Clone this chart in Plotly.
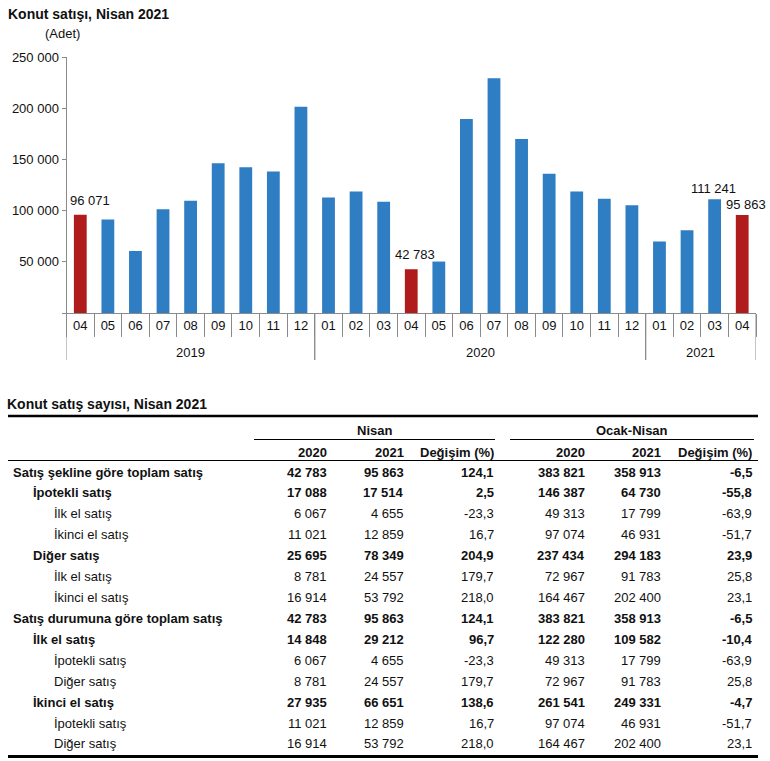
import plotly.graph_objects as go

# ---------------- chart data ----------------
years = ["2019"] * 9 + ["2020"] * 12 + ["2021"] * 4
months = ["04", "05", "06", "07", "08", "09", "10", "11", "12",
          "01", "02", "03", "04", "05", "06", "07", "08", "09", "10", "11", "12",
          "01", "02", "03", "04"]
sales = [96071, 91400, 60700, 101500, 109700, 146500, 142600, 138400, 201700,
         112900, 118800, 108700, 42783, 50300, 189600, 229400, 170000, 136100,
         118800, 111600, 105400, 69800, 80900, 111241, 95863]
highlighted = [("2019", "04"), ("2020", "04"), ("2021", "04")]
labelled = [("2019", "04"), ("2020", "04"), ("2021", "03"), ("2021", "04")]
y_ticks = [0, 50000, 100000, 150000, 200000, 250000]

# ---------------- table data ----------------
row_labels = ["Satış şekline göre toplam satış", "İpotekli satış", "İlk el satış",
              "İkinci el satış", "Diğer satış", "İlk el satış", "İkinci el satış",
              "Satış durumuna göre toplam satış", "İlk el satış", "İpotekli satış",
              "Diğer satış", "İkinci el satış", "İpotekli satış", "Diğer satış"]
row_levels = [0, 1, 2, 2, 1, 2, 2, 0, 1, 2, 2, 1, 2, 2]
row_bold = [True, True, False, False, True, False, False,
            True, True, False, False, True, False, False]
nisan_2020 = [42783, 17088, 6067, 11021, 25695, 8781, 16914,
              42783, 14848, 6067, 8781, 27935, 11021, 16914]
nisan_2021 = [95863, 17514, 4655, 12859, 78349, 24557, 53792,
              95863, 29212, 4655, 24557, 66651, 12859, 53792]
nisan_change = [124.1, 2.5, -23.3, 16.7, 204.9, 179.7, 218.0,
                124.1, 96.7, -23.3, 179.7, 138.6, 16.7, 218.0]
ocak_2020 = [383821, 146387, 49313, 97074, 237434, 72967, 164467,
             383821, 122280, 49313, 72967, 261541, 97074, 164467]
ocak_2021 = [358913, 64730, 17799, 46931, 294183, 91783, 202400,
             358913, 109582, 17799, 91783, 249331, 46931, 202400]
ocak_change = [-6.5, -55.8, -63.9, -51.7, 23.9, 25.8, 23.1,
               -6.5, -10.4, -63.9, 25.8, -4.7, -51.7, 23.1]
group_headers = ["Nisan", "Ocak-Nisan"]
col_headers = ["2020", "2021", "Değişim (%)", "2020", "2021", "Değişim (%)"]


def fmt_int(v):
    return f"{v:,}".replace(",", " ")


def fmt_pct(v):
    return f"{v:.1f}".replace(".", ",")


FONT = "Liberation Sans, Arial, sans-serif"
BLUE = "#2F7DC2"
RED = "#B01C1C"
AXIS = "#8a8a8a"
TXT = "#111111"

# label placement (pixel shifts) for the value labels, in the order of `labelled`
label_shift = [(10, 14), (4, 15), (-1, 11), (4, 10)]

keys = [f"{y}-{m}" for y, m in zip(years, months)]
colors = [RED if (y, m) in highlighted else BLUE for y, m in zip(years, months)]

fig = go.Figure()
fig.add_trace(go.Bar(
    x=keys, y=sales, marker_color=colors, marker_line_width=0,
    hoverinfo="skip", showlegend=False,
))
# invisible anchor trace for the table coordinate system
fig.add_trace(go.Scatter(x=[0], y=[0], xaxis="x2", yaxis="y2", mode="markers",
                         marker=dict(opacity=0), hoverinfo="skip", showlegend=False))

W, H = 770, 761
BASE = 313  # pixel row of the value axis zero line
fig.update_layout(
    template="none",
    width=W, height=H, margin=dict(l=0, r=0, t=0, b=0, pad=0),
    paper_bgcolor="white", plot_bgcolor="rgba(0,0,0,0)",
    font=dict(family=FONT, size=13, color=TXT),
    bargap=0.536, showlegend=False,
    xaxis=dict(
        type="category", categoryorder="array", categoryarray=keys,
        range=[-0.5, len(keys) - 0.5], autorange=False,
        domain=[66.5 / W, 756 / W], anchor="y", automargin=False,
        tickvals=keys, ticktext=months,
        showline=True, linecolor=AXIS, linewidth=1,
        ticks="outside", tickson="boundaries", ticklen=23, tickcolor=AXIS, tickwidth=1,
        ticklabelstandoff=0,
        tickfont=dict(size=13, color=TXT, family=FONT), showgrid=False, zeroline=False,
    ),
    yaxis=dict(
        domain=[1 - BASE / H, 1 - 57.3 / H], range=[0, 250000], autorange=False,
        anchor="x", automargin=False,
        tickvals=y_ticks, ticktext=["" if v == 0 else fmt_int(v) for v in y_ticks],
        ticks="outside", ticklen=4, tickcolor=AXIS, showline=True, linecolor=AXIS, linewidth=1,
        showgrid=False, zeroline=False, tickfont=dict(size=13, color=TXT, family=FONT),
    ),
    xaxis2=dict(domain=[0, 1], range=[0, W], anchor="y2", visible=False,
                fixedrange=True, automargin=False),
    yaxis2=dict(domain=[0, 1], range=[H, 0], anchor="x2", visible=False,
                fixedrange=True, automargin=False),
)

ann = []
shapes = []


def add_text(x, y, text, anchor="left", bold=False, size=13, xref="x2"):
    ann.append(dict(x=x, y=y, xref=xref, yref="y2", text=f"<b>{text}</b>" if bold else text,
                    showarrow=False, xanchor=anchor, yanchor="middle",
                    font=dict(size=size, color=TXT, family=FONT)))


def add_line(x0, x1, y, width):
    shapes.append(dict(type="line", xref="x2", yref="y2", x0=x0, x1=x1, y0=y, y1=y,
                       line=dict(color="black", width=width)))


# value labels above selected bars
for (yr, mo), (dx, dy) in zip(labelled, label_shift):
    i = [k for k, (y, m) in enumerate(zip(years, months)) if (y, m) == (yr, mo)][0]
    ann.append(dict(x=keys[i], y=sales[i], xref="x", yref="y", text=fmt_int(sales[i]),
                    showarrow=False, xanchor="center", yanchor="middle",
                    xshift=dx, yshift=dy, font=dict(size=13, color=TXT, family=FONT)))

# year group labels and dividers on the category axis
year_order = []
for y in years:
    if y not in year_order:
        year_order.append(y)
for yr in year_order:
    idx = [i for i, y in enumerate(years) if y == yr]
    add_text((idx[0] + idx[-1]) / 2, 352, yr, anchor="center", xref="x")
    for b in (idx[0] - 0.5, idx[-1] + 0.5):
        shapes.append(dict(type="line", xref="x", yref="y2", x0=b, x1=b, y0=BASE, y1=360,
                           line=dict(color=AXIS, width=1)))

# chart titles
add_text(6, 14, "Konut satışı, Nisan 2021", bold=True, size=14)
add_text(43, 33, "(Adet)", size=13)

# table layout
add_text(5, 404, "Konut satış sayısı, Nisan 2021", bold=True, size=14)
add_line(8, 758, 416, 2.5)
group_spans = [(254, 495), (510, 754)]
for name, (a, b) in zip(group_headers, group_spans):
    add_text((a + b) / 2, 430, name, anchor="center", bold=True)
    add_line(a, b, 439.5, 1.2)
col_right = [329, 406, 496, 587, 663, 754]
for h, xr in zip(col_headers, col_right):
    add_text(xr, 452, h, anchor="right", bold=True)
add_line(8, 758, 460.5, 1.2)

ROW0, STEP = 472, 20.92
indent = {0: 11, 1: 31, 2: 52}
cols = [(nisan_2020, fmt_int), (nisan_2021, fmt_int), (nisan_change, fmt_pct),
        (ocak_2020, fmt_int), (ocak_2021, fmt_int), (ocak_change, fmt_pct)]
for i, (lab, lev, b) in enumerate(zip(row_labels, row_levels, row_bold)):
    y = ROW0 + i * STEP
    add_text(indent[lev], y, lab, bold=b)
    for (arr, f), xr in zip(cols, col_right):
        add_text(xr, y, f(arr[i]), anchor="right", bold=b)
add_line(8, 758, 756.5, 3)

fig.update_layout(annotations=ann, shapes=shapes)

fig.write_html("out.html", config={"displayModeBar": False},
               post_script="document.body.style.margin='0';")
